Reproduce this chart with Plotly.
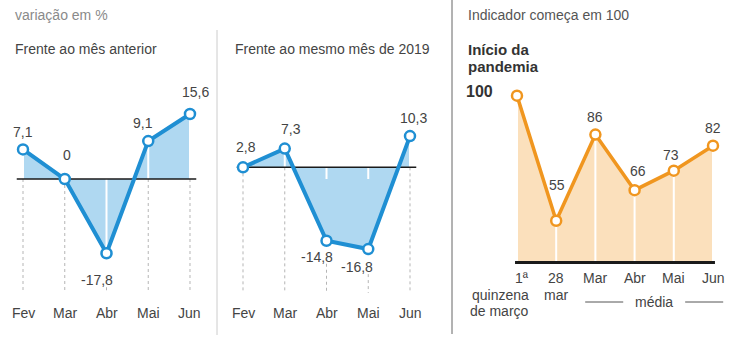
import plotly.graph_objects as go

W, H = 750, 350

# ---------------- data ----------------
months = ["Fev", "Mar", "Abr", "Mai", "Jun"]
vs_prev_month = [7.1, 0, -17.8, 9.1, 15.6]
vs_same_month_2019 = [2.8, 7.3, -14.8, -16.8, 10.3]
periods = ["1ª<br>quinzena<br>de março", "28<br>mar", "Mar", "Abr", "Mai", "Jun"]
movement_index = [100, 55, 86, 66, 73, 82]

# reference levels of each panel (panel 2 line drawn at the Fev level, as in the source)
base1 = 0
base2 = 2.8
base3 = 40

BLUE = "#1f8fd3"
BLUE_FILL = "#afd8f1"
ORANGE = "#f0961f"
ORANGE_FILL = "#fbe0bc"
TXT = "#444444"
FONT = "Liberation Sans, Arial, sans-serif"


def fmt(v):
    if v == 0:
        return "0"
    s = f"{v:.1f}" if abs(v - round(v)) > 1e-9 else f"{int(round(v))}"
    return s.replace(".", ",")


def py(px):
    return 1 - px / H


fig = go.Figure()

# label offsets (dx, dy in px, dy>0 = up)
off1 = [(0, 17), (2, 24), (-10, -27), (-5, 18), (6, 22)]
off2 = [(3, 20), (6, 20), (-10, -16), (-11, -18), (3, 18)]
off3 = [(-37, 4), (1, 36), (0, 18), (3, 19), (-3, 16), (0, 18)]

PX_PER_UNIT = 4.17
GUIDE_BOTTOM = -27.3


def blue_panel(values, base, xa, ya, offs):
    n = len(values)
    xs = list(range(n))
    fig.add_trace(go.Scatter(x=xs, y=[base] * n, mode="lines", line=dict(width=0),
                             xaxis=xa, yaxis=ya, hoverinfo="skip", showlegend=False))
    fig.add_trace(go.Scatter(x=xs, y=values, mode="lines", line=dict(width=0),
                             fill="tonexty", fillcolor=BLUE_FILL,
                             xaxis=xa, yaxis=ya, hoverinfo="skip", showlegend=False))
    gx, gy = [], []
    for i, v in enumerate(values):
        if v < base:
            start = v - (abs(offs[i][1]) + 7) / PX_PER_UNIT
        else:
            start = base
        gx += [i, i, None]
        gy += [start, GUIDE_BOTTOM, None]
    fig.add_trace(go.Scatter(x=gx, y=gy, mode="lines",
                             line=dict(color="#b5b5b5", width=1, dash="dot"),
                             xaxis=xa, yaxis=ya, hoverinfo="skip", showlegend=False))
    sx, sy = [], []
    for i, v in enumerate(values):
        if v < base:
            end = max(v, 0) if base > 0 else v
        else:
            end = v
        sx += [i, i, None]
        sy += [base, end, None]
    fig.add_trace(go.Scatter(x=sx, y=sy, mode="lines", line=dict(color="white", width=2),
                             xaxis=xa, yaxis=ya, hoverinfo="skip", showlegend=False))
    fig.add_trace(go.Scatter(x=[-0.15, n - 1 + 0.15], y=[base, base], mode="lines",
                             line=dict(color="#1a1a1a", width=1.5),
                             xaxis=xa, yaxis=ya, hoverinfo="skip", showlegend=False))
    fig.add_trace(go.Scatter(x=xs, y=values, mode="lines+markers",
                             line=dict(color=BLUE, width=4),
                             marker=dict(size=10, color="white", line=dict(color=BLUE, width=2.5)),
                             xaxis=xa, yaxis=ya, hoverinfo="skip", showlegend=False))
    for i, v in enumerate(values):
        fig.add_annotation(x=i, y=v, xref=xa, yref=ya, text=fmt(v), showarrow=False,
                           xshift=offs[i][0], yshift=offs[i][1],
                           xanchor="center", yanchor="middle",
                           font=dict(size=14, color=TXT, family=FONT))
        fig.add_annotation(x=i, y=py(313), xref=xa, yref="paper", text=months[i],
                           showarrow=False, xanchor="center", yanchor="middle",
                           font=dict(size=14, color=TXT, family=FONT))


blue_panel(vs_prev_month, base1, "x", "y", off1)
blue_panel(vs_same_month_2019, base2, "x2", "y2", off2)

# ---------- panel 3 ----------
n3 = len(movement_index)
xs3 = list(range(n3))
fig.add_trace(go.Scatter(x=xs3, y=[base3] * n3, mode="lines", line=dict(width=0),
                         xaxis="x3", yaxis="y3", hoverinfo="skip", showlegend=False))
fig.add_trace(go.Scatter(x=xs3, y=movement_index, mode="lines", line=dict(width=0),
                         fill="tonexty", fillcolor=ORANGE_FILL,
                         xaxis="x3", yaxis="y3", hoverinfo="skip", showlegend=False))
sx, sy = [], []
for i, v in enumerate(movement_index):
    sx += [i, i, None]
    sy += [base3, v, None]
fig.add_trace(go.Scatter(x=sx, y=sy, mode="lines", line=dict(color="white", width=2),
                         xaxis="x3", yaxis="y3", hoverinfo="skip", showlegend=False))
fig.add_trace(go.Scatter(x=[-0.05, n3 - 1 + 0.05], y=[base3, base3], mode="lines",
                         line=dict(color="#1a1a1a", width=3),
                         xaxis="x3", yaxis="y3", hoverinfo="skip", showlegend=False))
fig.add_trace(go.Scatter(x=xs3, y=movement_index, mode="lines+markers",
                         line=dict(color=ORANGE, width=3.5),
                         marker=dict(size=10, color="white", line=dict(color=ORANGE, width=2.5)),
                         xaxis="x3", yaxis="y3", hoverinfo="skip", showlegend=False))
for i, v in enumerate(movement_index):
    if i == 0:
        txt, size, col = f"<b>{fmt(v)}</b>", 16, "#333333"
    else:
        txt, size, col = fmt(v), 14, TXT
    fig.add_annotation(x=i, y=v, xref="x3", yref="y3", text=txt, showarrow=False,
                       xshift=off3[i][0], yshift=off3[i][1],
                       xanchor="center", yanchor="middle",
                       font=dict(size=size, color=col, family=FONT))

LINE_H = 16.5
for i, lab in enumerate(periods):
    for k, part in enumerate(lab.split("<br>")):
        if i == 0:
            kw = dict(xanchor="right", xshift=14)
        else:
            kw = dict(xanchor="center")
        fig.add_annotation(x=i, y=py(278 + LINE_H * k), xref="x3", yref="paper", text=part,
                           showarrow=False, yanchor="middle", **kw,
                           font=dict(size=14, color=TXT, family=FONT))
fig.add_annotation(x=3.5, y=py(302), xref="x3", yref="paper", text="média", showarrow=False,
                   xanchor="center", yanchor="middle",
                   font=dict(size=14, color=TXT, family=FONT))
for x0, x1 in [(1.74, 2.71), (4.29, 5.26)]:
    fig.add_shape(type="line", xref="x3", yref="paper", x0=x0, x1=x1, y0=py(302), y1=py(302),
                  line=dict(color="#555555", width=1))


# ---------- headers ----------
def header(text, xpx, ypx, size=14, color=TXT):
    fig.add_annotation(x=xpx / W, y=py(ypx), xref="paper", yref="paper", text=text,
                       showarrow=False, xanchor="left", yanchor="middle", align="left",
                       font=dict(size=size, color=color, family=FONT))


header("variação em %", 13, 15, color="#8a8a8a")
header("Frente ao mês anterior", 13, 49)
header("Frente ao mesmo mês de 2019", 233, 49)
header("Indicador começa em 100", 466, 15, color="#555555")
header("<b>Início da</b>", 466, 49, size=15, color="#333333")
header("<b>pandemia</b>", 466, 66, size=15, color="#333333")

# separators
fig.add_shape(type="line", xref="paper", yref="paper", x0=217 / W, x1=217 / W,
              y0=py(30), y1=py(335), line=dict(color="#cccccc", width=1))
fig.add_shape(type="line", xref="paper", yref="paper", x0=452 / W, x1=452 / W,
              y0=py(0), y1=py(334), line=dict(color="#666666", width=1))

ax = dict(visible=False, fixedrange=True)
fig.update_layout(
    width=W, height=H, margin=dict(l=0, r=0, t=0, b=0),
    paper_bgcolor="white", plot_bgcolor="white",
    xaxis=dict(domain=[0, 217 / W], range=[-0.551, 4.647], **ax),
    xaxis2=dict(domain=[217 / W, 452 / W], range=[-0.623, 5.006], anchor="y2", **ax),
    xaxis3=dict(domain=[452 / W, 1], range=[-1.658, 5.944], anchor="y3", **ax),
    yaxis=dict(domain=[0, 1], range=[-41.0, 42.93], **ax),
    yaxis2=dict(domain=[0, 1], range=[-41.0, 42.93], anchor="x2", **ax),
    yaxis3=dict(domain=[0, 1], range=[8.5, 134.4], anchor="x3", **ax),
    showlegend=False,
)

fig.write_html("out.html")
